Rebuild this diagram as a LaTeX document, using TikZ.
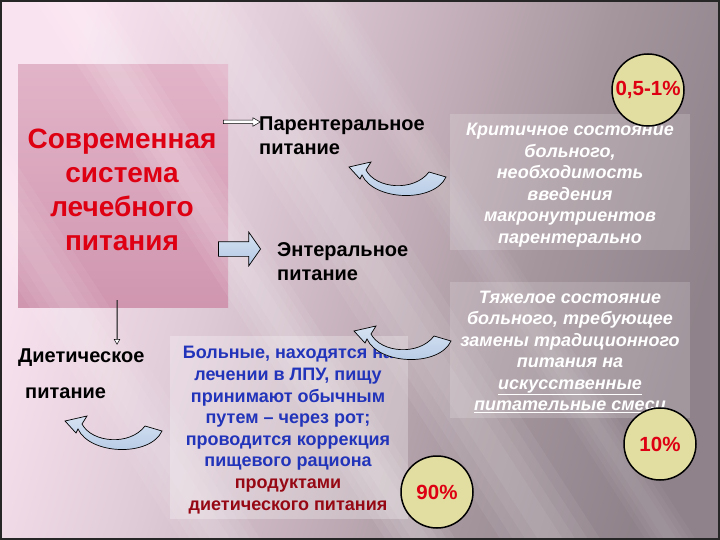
\documentclass[tikz,border=0pt]{standalone}
\usepackage{fontspec}
\setmainfont{Liberation Sans}
\usetikzlibrary{shapes.arrows}
\definecolor{pinkA}{RGB}{226,180,200}
\definecolor{pinkB}{RGB}{208,150,176}
\definecolor{titlered}{RGB}{222,0,18}
\definecolor{txtblue}{RGB}{34,52,186}
\definecolor{txtdred}{RGB}{150,8,20}
\definecolor{khaki}{RGB}{226,222,162}
\definecolor{arrowblue}{RGB}{178,200,228}
\definecolor{arrowblueL}{RGB}{214,226,242}
\pgfdeclarehorizontalshading{bgshade}{100bp}{
  rgb(0bp)=(0.98,0.89,0.94);
  rgb(25bp)=(0.98,0.89,0.94);
  rgb(40bp)=(0.87,0.79,0.84);
  rgb(52bp)=(0.76,0.68,0.72);
  rgb(62bp)=(0.65,0.59,0.62);
  rgb(75bp)=(0.56,0.51,0.54);
  rgb(100bp)=(0.56,0.51,0.54)}
\tikzset{
  uarrow/.pic={\draw[line width=0.7, top color=arrowblueL, bottom color=arrowblue]
     (0,0) -- (22,-5) -- (17,3) .. controls (27,22) and (65,25) .. (80,5)
     -- (97,10) .. controls (85,36) and (25,34) .. (13,8) -- (11,12) -- cycle;},
  wtext/.style={text=white, font=\fontsize{18}{21.5}\selectfont\bfseries\itshape, align=center, inner sep=0},
  btext/.style={text=black, font=\fontsize{20}{24}\selectfont\bfseries, align=left, inner sep=0},
  bluetext/.style={text=txtblue, font=\fontsize{18}{21.6}\selectfont\bfseries, align=center, inner sep=0},
  pct/.style={circle, minimum size=72pt, fill=khaki, draw=black, line width=1.5pt, inner sep=0,
     text=titlered, font=\fontsize{20.5}{22}\selectfont\bfseries},
  thinarrow/.style={single arrow, draw=black, fill=white, line width=0.5pt, inner xsep=0pt, inner ysep=1.5pt,
     single arrow head extend=2.5pt, single arrow tip angle=60},
  glass/.style={fill=white, fill opacity=0.17}
}
\begin{document}
\begin{tikzpicture}[x=1pt,y=-1pt]
\useasboundingbox (0,0) rectangle (720,540);
% background
\shade[shading=bgshade, shading angle=-17] (0,0) rectangle (720,540);
% pink box
\shade[top color=pinkA, bottom color=pinkB] (18,65) rectangle (228,307);
% soft light diagonal streaks
\foreach \c/\w/\o in {70/70/0.07, 200/100/0.06, -130/80/0.06, 320/50/0.04}{
  \foreach \k in {1,0.75,0.5,0.25}{
    \fill[white, opacity=\o]
      ({\c-\w*\k/2},0) -- ({\c+\w*\k/2},0) -- ({\c+\w*\k/2+351},540) -- ({\c-\w*\k/2+351},540) -- cycle;
  }
}
% boxes
\fill[glass] (450,114) rectangle (690,250);
\fill[glass] (450,282) rectangle (690,418);
\fill[white, fill opacity=0.28] (170,336) rectangle (408,519);
% frame
\draw[black!85, line width=2pt] (1,1) rectangle (719,539);
% texts
\node[text=titlered, font=\fontsize{28}{34}\selectfont\bfseries, align=center, inner sep=0] (title) at (122,190)
  {Современная\\система\\лечебного\\питания};
\node[btext, anchor=west] (par) at (259,136) {Парентеральное\\питание};
\node[btext, anchor=west] (ent) at (277,262) {Энтеральное\\питание};
\node[btext, anchor=west] (diet1) at (18,358) {Диетическое};
\node[btext, anchor=west] (diet2) at (25,393) {питание};
\node[wtext] (crit) at (570,185) {Критичное состояние\\больного,\\необходимость\\введения\\макронутриентов\\парентерально};
\node[wtext] (heavy) at (570,352) {Тяжелое состояние\\больного, требующее\\замены традиционного\\питания на\\\underline{искусственные}\\\underline{питательные смеси}};
\node[bluetext] (sick) at (288,430) {Больные, находятся на\\лечении в ЛПУ, пищу\\принимают обычным\\путем – через рот;\\проводится коррекция\\пищевого рациона\\\textcolor{txtdred}{продуктами}\\\textcolor{txtdred}{диетического питания}};
% arrows
\coordinate (pa) at (223,122);
\coordinate (da) at (117,300);
\node[thinarrow, minimum height=37pt, anchor=west] (ar1) at (pa) {};
\node[thinarrow, minimum height=44pt, shape border rotate=270, anchor=north] (ar2) at (da) {};
\node[single arrow, draw=black, line width=0.7pt, top color=arrowblueL, bottom color=arrowblue, inner xsep=0pt, inner ysep=7pt,
  single arrow head extend=9.5pt, single arrow tip angle=110, minimum height=42pt] (ar3) at (237,249) {};
\pic at (349,167) {uarrow};
\pic at (354,331) {uarrow};
\pic at (65,421) {uarrow};
% circles
\node[pct] (c1) at (648,90) {0,5-1\%};
\node[pct] (c2) at (660,444) {10\%};
\node[pct] (c3) at (437,492) {90\%};
\end{tikzpicture}
\end{document}
